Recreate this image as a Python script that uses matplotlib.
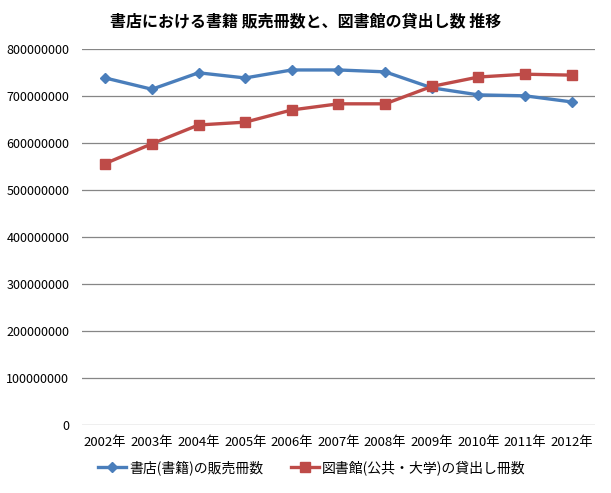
import matplotlib

matplotlib.use("Agg")
import matplotlib.pyplot as plt
from matplotlib.ticker import FuncFormatter

plt.rcParams["font.family"] = ["Noto Sans CJK JP", "DejaVu Sans"]

YEARS = [f"{y}年" for y in range(2002, 2013)]
# 書店(書籍)の販売冊数
SHOP_SALES = [738e6, 714e6, 749e6, 738e6, 755e6, 755e6, 751e6, 717e6, 702e6, 700e6, 687e6]
# 図書館(公共・大学)の貸出し冊数
LIBRARY_LOANS = [556e6, 598e6, 638e6, 644e6, 670e6, 683e6, 683e6, 720e6, 740e6, 746e6, 744e6]

TITLE = "書店における書籍 販売冊数と、図書館の貸出し数 推移"
LABEL_SHOP = "書店(書籍)の販売冊数"
LABEL_LIB = "図書館(公共・大学)の貸出し冊数"

fig = plt.figure(figsize=(6.11, 4.93), dpi=100)
ax = fig.add_axes([0.134, 0.138, 0.840, 0.763])

x = range(len(YEARS))
ax.plot(x, SHOP_SALES, color="#4A7EBB", lw=2.4, marker="D", ms=5.5,
        label=LABEL_SHOP)
ax.plot(x, LIBRARY_LOANS, color="#BE4B48", lw=2.4, marker="s", ms=7,
        label=LABEL_LIB)

ax.set_xlim(-0.5, len(YEARS) - 0.5)
ax.set_ylim(0, 800e6)
ax.set_yticks(range(0, 800_000_001, 100_000_000))
ax.yaxis.set_major_formatter(FuncFormatter(lambda v, _: f"{int(v)}"))
ax.set_xticks(list(x))
ax.set_xticklabels(YEARS)
ax.grid(axis="y", color="#868686", lw=0.9)
ax.set_axisbelow(True)
for s in ax.spines.values():
    s.set_visible(False)
ax.tick_params(axis="y", length=0, labelsize=9, pad=9)
ax.tick_params(axis="x", length=0, labelsize=9.5, pad=8)

fig.text(0.50, 0.957, TITLE, ha="center", va="center", fontsize=11.5,
         fontweight="bold")
fig.legend(loc="center", bbox_to_anchor=(0.51, 0.052), ncol=2, frameon=False,
           fontsize=10, handlelength=2.0, handletextpad=0.2, columnspacing=2.0)

fig.savefig("out.png", dpi=100)
